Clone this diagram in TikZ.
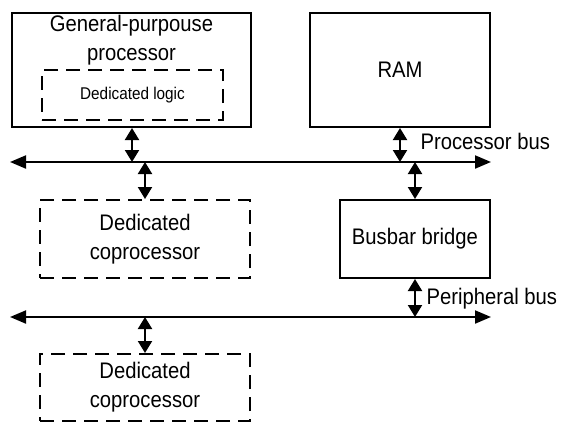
\documentclass[tikz,border=0pt]{standalone}
\usepackage{fontspec}
\setmainfont[FakeStretch=0.9]{Liberation Sans}
\usetikzlibrary{arrows.meta}

\begin{document}
\begin{tikzpicture}[
  x=1pt, y=-1pt,
  box/.style={rectangle, draw, line width=2pt, inner sep=0pt},
  dbox/.style={box, dash pattern=on 14pt off 8pt},
  txt/.style={font=\fontsize{22.5}{29}\selectfont, align=center},
  bus/.style={{Triangle[length=16pt,width=13pt]}-{Triangle[length=16pt,width=13pt]}, line width=2pt},
  dbl/.style={{Triangle[length=12pt,width=14pt]}-{Triangle[length=12pt,width=14pt]}, line width=2pt}
]
  \useasboundingbox (0,0) rectangle (561,423);

  % Boxes
  \node[box, minimum width=239pt, minimum height=114pt] (gpp) at (131.5,70) {};
  \node[txt] (gpptext) at (131.5,40) {General-purpouse\\processor};
  \node[dbox, minimum width=181pt, minimum height=50pt, font=\fontsize{17}{20}\selectfont] (logic) at (132.5,95) {Dedicated logic};
  \node[box, txt, minimum width=180pt, minimum height=114pt] (ram) at (400,70) {RAM};
  \node[dbox, txt, minimum width=210pt, minimum height=78pt] (dc1) at (145,239) {Dedicated\\coprocessor};
  \node[box, txt, minimum width=150pt, minimum height=78pt] (bridge) at (415,239) {Busbar bridge};
  \node[dbox, txt, minimum width=210pt, minimum height=67pt] (dc2) at (145,387.5) {Dedicated\\coprocessor};

  % Buses
  \coordinate (pbl) at (10,162);
  \coordinate (pbr) at (491,162);
  \coordinate (sbl) at (10,317);
  \coordinate (sbr) at (491,317);
  \draw[bus] (pbl) -- (pbr);
  \draw[bus] (sbl) -- (sbr);
  \node[txt, anchor=west] (pbus) at (417,141) {Processor bus};
  \node[txt, anchor=west] (sbus) at (423,299) {Peripheral bus};

  % Bus taps
  \coordinate (t1) at (132,162);
  \coordinate (t2) at (145,162);
  \coordinate (t3) at (400,162);
  \coordinate (t4) at (415,162);
  \coordinate (t5) at (415,317);
  \coordinate (t6) at (145,317);
  \draw[dbl] (gpp.south -| t1) -- (t1);
  \draw[dbl] (t2) -- (dc1.north -| t2);
  \draw[dbl] (ram.south -| t3) -- (t3);
  \draw[dbl] (t4) -- (bridge.north -| t4);
  \draw[dbl] (bridge.south -| t5) -- (t5);
  \draw[dbl] (t6) -- (dc2.north -| t6);
\end{tikzpicture}
\end{document}
